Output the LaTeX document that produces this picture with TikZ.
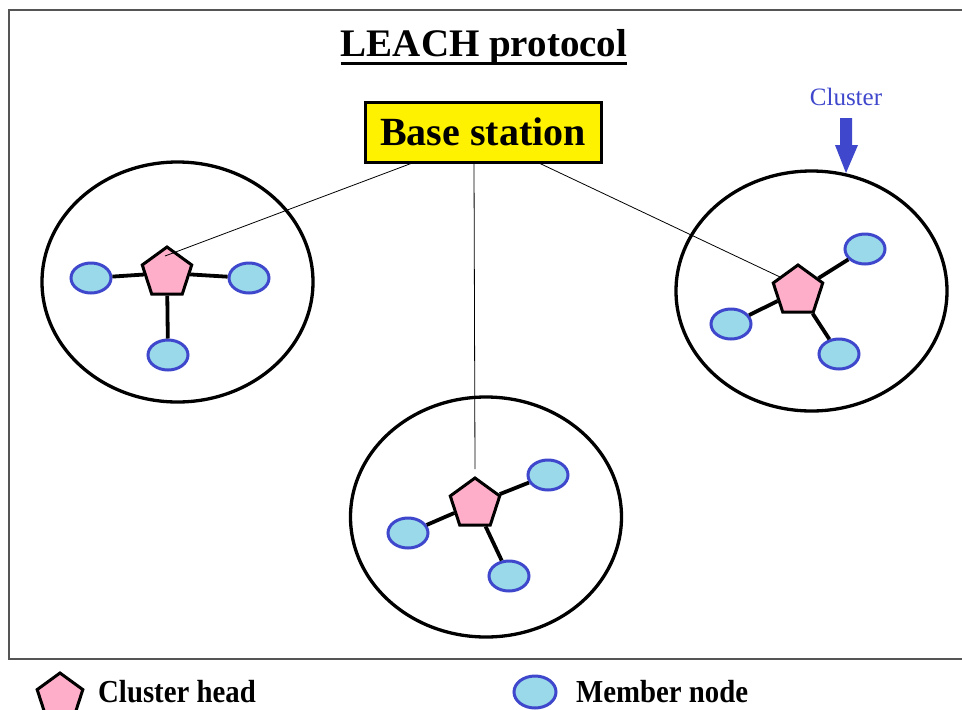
\documentclass[tikz,border=0pt]{standalone}
\usepackage{fontspec}
\setmainfont{Liberation Serif}
\usetikzlibrary{shapes.geometric,calc}
\definecolor{chpink}{HTML}{FFAEC9}
\definecolor{mfill}{HTML}{99D9EA}
\definecolor{mblue}{HTML}{3F48CC}
\definecolor{framegray}{HTML}{555555}
\begin{document}
\begin{tikzpicture}[x=1pt,y=-1pt,
  head/.style={regular polygon, regular polygon sides=5, minimum size=52pt, inner sep=0pt, fill=chpink, draw=black, line width=3pt},
  member/.style={ellipse, minimum width=40pt, minimum height=30pt, inner sep=0pt, fill=mfill, draw=mblue, line width=3pt},
  cluster/.style={ellipse, minimum width=271pt, minimum height=240pt, draw=black, line width=3.3pt},
  tie/.style={line width=3.8pt},
  uplink/.style={line width=0.8pt},
  legendtext/.style={anchor=base west, inner sep=0pt, font=\bfseries\fontsize{32}{32}\selectfont}
]
\useasboundingbox (0,0) rectangle (962,710);
\clip (0,0) rectangle (962,710);
\fill[white] (0,0) rectangle (962,710);
\draw[draw=framegray, line width=2pt] (9,10) rectangle (975,659);

% title
\node[anchor=base, inner sep=0pt, font=\bfseries\fontsize{39}{39}\selectfont] (title) at (484,56) {LEACH protocol};
\draw[line width=3pt] ([yshift=-7pt]title.base west) -- ([yshift=-7pt]title.base east);

% base station
\node[draw, line width=3pt, fill=yellow, minimum width=236pt, minimum height=60pt, inner sep=0pt,
      font=\bfseries\fontsize{40}{40}\selectfont] (bs) at (483,132) {Base station};

% clusters
\node[cluster] (cl1) at (177.5,282) {};
\node[cluster] (cl2) at (486,517) {};
\node[cluster] (cl3) at (811.5,291) {};

% cluster heads
\node[head] (ch1) at (167,273) {};
\node[head] (ch2) at (475,504) {};
\node[head] (ch3) at (798,291) {};

% members
\node[member] (m11) at (91,278) {};
\node[member] (m12) at (249,278) {};
\node[member] (m13) at (168,355) {};
\node[member] (m21) at (548,475) {};
\node[member] (m22) at (408,533) {};
\node[member] (m23) at (509,576) {};
\node[member] (m31) at (865,249) {};
\node[member] (m32) at (731,324) {};
\node[member] (m33) at (839,354) {};

% intra-cluster links
\draw[tie] (ch1) -- (m11);
\draw[tie] (ch1) -- (m12);
\draw[tie] (ch1) -- (m13);
\draw[tie] (ch2) -- (m21);
\draw[tie] (ch2) -- (m22);
\draw[tie] (ch2) -- (m23);
\draw[tie] (ch3) -- (m31);
\draw[tie] (ch3) -- (m32);
\draw[tie] (ch3) -- (m33);

% links to base station
\draw[uplink] ($(bs.south)+(-72,0)$) -- ($(ch1.center)+(-2,-17)$);
\draw[uplink] ($(bs.south)+(-9,0)$) -- ($(ch2.north)+(0,-7)$);
\draw[uplink] ($(bs.south)+(57,0)$) -- ($(ch3.center)+(-18,-14)$);

% cluster label and arrow
\node[text=mblue, inner sep=0pt, font=\fontsize{25}{25}\selectfont] (lbl) at (846,97) {Cluster};
\fill[mblue] (840,118) -- (852,118) -- (852,145) -- (858,145) -- (846,173) -- (835,145) -- (840,145) -- cycle;

% legend
\node[head, minimum size=48pt] (lgh) at (60,697) {};
\node[legendtext] (lght) at (98,702) {\scalebox{0.9}[1]{Cluster head}};
\node[member, minimum width=42pt, minimum height=32pt] (lgm) at (535,692) {};
\node[legendtext] (lgmt) at (576,702) {\scalebox{0.9}[1]{Member node}};
\end{tikzpicture}
\end{document}
